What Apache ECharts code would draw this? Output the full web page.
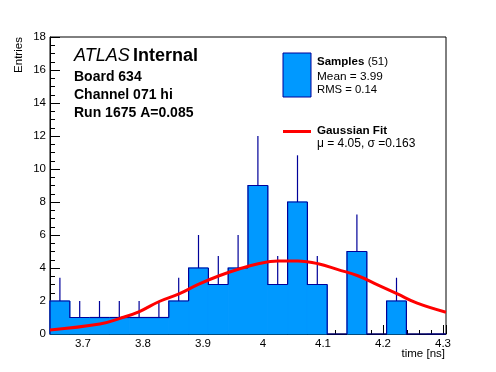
<!DOCTYPE html>
<html>
<head>
<meta charset="utf-8">
<script src="https://cdn.jsdelivr.net/npm/echarts@6/dist/echarts.min.js"></script>
<style>html,body{margin:0;padding:0;background:#fff;}#c{width:496px;height:372px;}</style>
</head>
<body>
<div id="c"></div>
<script>
// ---- data ----
const binEdges = [3.645, 3.678, 3.711, 3.744, 3.777, 3.810, 3.843, 3.876, 3.909, 3.942, 3.975,
                  4.008, 4.041, 4.074, 4.107, 4.140, 4.173, 4.206, 4.239, 4.272, 4.305];
const counts   = [2, 1, 1, 1, 1, 1, 2, 4, 3, 4, 9, 3, 8, 3, 0, 5, 0, 2, 0, 0];
const errUp    = [1.41, 1, 1, 1, 1, 1, 1.41, 2, 1.73, 2, 3, 1.73, 2.83, 1.73, 0, 2.24, 0, 1.41, 0, 0];
const fitX = [3.645, 3.728, 3.762, 3.794, 3.827, 3.860, 3.893, 3.927, 3.960, 3.992, 4.025, 4.058,
              4.092, 4.125, 4.158, 4.191, 4.224, 4.257, 4.305];
const fitY = [0.24, 0.60, 0.95, 1.36, 1.97, 2.43, 3.02, 3.53, 3.94, 4.26, 4.42, 4.42,
              4.26, 3.90, 3.53, 2.98, 2.43, 1.87, 1.32];
const xTickLabels = ['3.7', '3.8', '3.9', '4', '4.1', '4.2', '4.3'];
const yTickLabels = ['0', '2', '4', '6', '8', '10', '12', '14', '16', '18'];

const FILL = '#0099ff', NAVY = '#000099', FONT = 'Liberation Sans';

const histData = counts.map((c, i) => [binEdges[i], binEdges[i + 1], c, i > 0 ? counts[i - 1] : 0, errUp[i]]);
const fitData = fitX.map((x, i) => [x, fitY[i]]);

const chart = echarts.init(document.getElementById('c'), null, {renderer: 'canvas'});
chart.setOption({
  animation: false,
  grid: {left: 50, right: 50, top: 37, bottom: 38, show: true, borderColor: '#000', borderWidth: 1, backgroundColor: 'transparent'},
  xAxis: {
    type: 'value', min: binEdges[0], max: binEdges[binEdges.length - 1],
    axisLine: {show: true, onZero: false, lineStyle: {color: '#000', width: 1}},
    axisTick: {show: true, inside: true, length: 9, lineStyle: {color: '#000'}},
    minorTick: {show: true, splitNumber: 5, length: 4, lineStyle: {color: '#000'}},
    splitLine: {show: false},
    axisLabel: {
      color: '#000', fontFamily: FONT, fontSize: 11.5, margin: 4, showMinLabel: false, showMaxLabel: false,
      formatter: v => { const s = String(Math.round(v * 10) / 10); return (Math.abs(v * 10 - Math.round(v * 10)) < 1e-6 && xTickLabels.includes(s)) ? s : ''; }
    }
  },
  yAxis: {
    type: 'value', min: 0, max: 18, interval: 2,
    axisLine: {show: true, lineStyle: {color: '#000', width: 1}},
    axisTick: {show: true, inside: true, length: 10, lineStyle: {color: '#000'}},
    minorTick: {show: true, splitNumber: 4, length: 5, lineStyle: {color: '#000'}},
    splitLine: {show: false},
    axisLabel: {color: '#000', fontFamily: FONT, fontSize: 11.5, margin: 4,
      formatter: v => yTickLabels.includes(String(v)) ? String(v) : ''}
  },
  series: [
    {
      type: 'custom', z: 2, data: histData,
      renderItem: (params, api) => {
        const x0 = api.value(0), x1 = api.value(1), c = api.value(2), prev = api.value(3), e = api.value(4);
        const pBL = api.coord([x0, 0]), pTR = api.coord([x1, c]);
        const pPrev = api.coord([x0, prev]), pTL = api.coord([x0, c]);
        const children = [];
        if (c > 0) {
          children.push({type: 'rect', z2: 1, shape: {x: pBL[0], y: pTR[1], width: pTR[0] - pBL[0], height: pBL[1] - pTR[1]},
            style: {fill: FILL, stroke: FILL, lineWidth: 1}});
        }
        children.push({type: 'polyline', z2: 10, shape: {points: [pPrev, pTL, pTR]}, style: {stroke: NAVY, lineWidth: 1.2, fill: null}});
        if (e > 0) {
          const xm = (x0 + x1) / 2;
          const a = api.coord([xm, c]), b = api.coord([xm, c + e]);
          children.push({type: 'line', z2: 10, shape: {x1: a[0], y1: a[1], x2: b[0], y2: b[1]},
            style: {stroke: NAVY, lineWidth: 1.2}});
        }
        return {type: 'group', children};
      }
    },
    {
      type: 'line', z: 3, data: fitData, smooth: 0.4, showSymbol: false,
      lineStyle: {color: '#ff0000', width: 3}
    }
  ],
  graphic: [
    {type: 'text', left: 74, top: 47, style: {text: '{i|ATLAS} {b|Internal}', rich: {
      i: {fontFamily: FONT, fontStyle: 'italic', fontSize: 18, fill: '#000'},
      b: {fontFamily: FONT, fontWeight: 'bold', fontSize: 18, fill: '#000'}}}},
    {type: 'text', left: 74, top: 70, style: {text: 'Board 634', fontFamily: FONT, fontWeight: 'bold', fontSize: 14, fill: '#000'}},
    {type: 'text', left: 74, top: 88, style: {text: 'Channel 071 hi', fontFamily: FONT, fontWeight: 'bold', fontSize: 14, fill: '#000'}},
    {type: 'text', left: 74, top: 106, style: {text: 'Run 1675 A=0.085', fontFamily: FONT, fontWeight: 'bold', fontSize: 14, fill: '#000'}},
    {type: 'rect', shape: {x: 283, y: 53, width: 28, height: 44}, style: {fill: FILL, stroke: NAVY, lineWidth: 1}},
    {type: 'text', left: 317, top: 56, style: {text: '{b|Samples} {r|(51)}', rich: {
      b: {fontFamily: FONT, fontWeight: 'bold', fontSize: 11.5, fill: '#000'},
      r: {fontFamily: FONT, fontSize: 11.5, fill: '#000'}}}},
    {type: 'text', left: 317, top: 71, style: {text: 'Mean = 3.99', fontFamily: FONT, fontSize: 11.8, fill: '#000'}},
    {type: 'text', left: 317, top: 84, style: {text: 'RMS = 0.14', fontFamily: FONT, fontSize: 11.3, fill: '#000'}},
    {type: 'line', shape: {x1: 283, y1: 131.5, x2: 311, y2: 131.5}, style: {stroke: '#ff0000', lineWidth: 3}},
    {type: 'text', left: 317, top: 124.5, style: {text: 'Gaussian Fit', fontFamily: FONT, fontWeight: 'bold', fontSize: 11.7, fill: '#000'}},
    {type: 'text', left: 317, top: 137.5, style: {text: 'μ = 4.05, σ =0.163', fontFamily: FONT, fontSize: 12, fill: '#000'}},
    {type: 'text', x: 19, y: 55, rotation: Math.PI / 2, style: {text: 'Entries', fontFamily: FONT, fontSize: 11.5, fill: '#000', align: 'center', verticalAlign: 'middle'}},
    {type: 'text', x: 445, y: 354, style: {text: 'time [ns]', fontFamily: FONT, fontSize: 11.5, fill: '#000', align: 'right', verticalAlign: 'middle'}}
  ]
});
</script>
</body>
</html>
